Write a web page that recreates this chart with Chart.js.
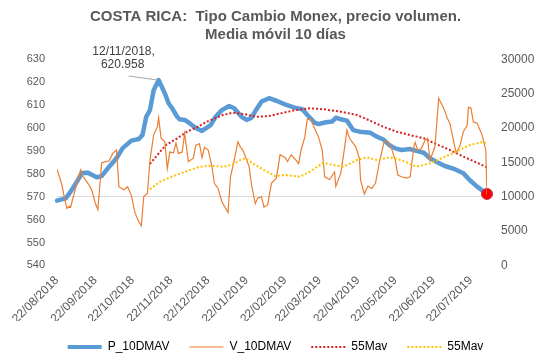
<!DOCTYPE html>
<html>
<head>
<meta charset="utf-8">
<script src="https://cdn.jsdelivr.net/npm/chart.js@4.4.0/dist/chart.umd.min.js"></script>
<style>
  html, body { margin: 0; padding: 0; background: #fff; }
</style>
</head>
<body>
<canvas id="chart" width="543" height="363"></canvas>
<script>
// Costa Rica - Monex exchange rate, 10 day moving averages
// x values are days counted from 22/08/2018

const titleLines = ['COSTA RICA:  Tipo Cambio Monex, precio volumen.', 'Media móvil 10 días'];
const peakLabel = ['12/11/2018,', '620.958'];

// month ticks on the date axis
const tickDays = [0, 31, 61, 92, 122, 153, 184, 212, 243, 273, 304, 334];
const tickLabels = ['22/08/2018', '22/09/2018', '22/10/2018', '22/11/2018', '22/12/2018', '22/01/2019',
  '22/02/2019', '22/03/2019', '22/04/2019', '22/05/2019', '22/06/2019', '22/07/2019'];

// P_10DMAV (left axis)
const priceDays = [0, 7, 11, 16, 20, 25, 32, 36, 41, 48, 53, 60, 66, 69, 72, 75, 78, 82, 87, 90, 93, 97,
  99, 103, 107, 112, 117, 124, 128, 133, 139, 143, 149, 153, 157, 161, 165, 171, 177, 184, 191, 198, 202,
  208, 211, 217, 222, 225, 229, 234, 239, 244, 253, 258, 263, 268, 273, 278, 285, 290, 296, 301, 306, 313,
  321, 328, 333, 339, 347];
const priceValues = [568.3, 569.3, 572.2, 576.5, 580.3, 580.5, 578.5, 579.0, 582.4, 586.8, 591.2, 594.5,
  595.2, 597.0, 604.9, 607.8, 616.5, 620.958, 615.2, 610.8, 608.6, 604.9, 603.8, 603.5, 602.1, 600.0, 598.7,
  601.3, 604.9, 607.8, 609.6, 608.6, 604.9, 603.5, 604.5, 608.2, 611.5, 613.0, 611.9, 610.3, 609.0, 608.2,
  605.7, 602.3, 601.7, 602.5, 602.8, 604.5, 603.8, 603.2, 599.1, 598.4, 597.9, 596.2, 595.1, 592.6, 591.1,
  590.4, 590.8, 590.0, 589.2, 586.8, 585.3, 583.4, 582.0, 580.2, 577.3, 574.4, 571.2];

// V_10DMAV (right axis)
const volDays = [0, 4, 6, 8, 10, 11, 16, 19, 21, 25, 28, 31, 33, 36, 39, 42, 45, 48, 50, 54, 57, 60, 63, 66,
  68, 70, 73, 75, 78, 81, 82, 84, 87, 89, 91, 94, 96, 98, 101, 103, 106, 110, 112, 115, 117, 119, 122,
  125, 127, 130, 133, 138, 140, 143, 146, 148, 150, 155, 157, 160, 162, 165, 167, 170, 173, 177, 180, 184,
  186, 189, 193, 195, 197, 200, 202, 205, 208, 211, 214, 216, 220, 224, 225, 229, 231, 234, 236, 241, 244,
  245, 248, 251, 254, 257, 260, 264, 267, 270, 273, 275, 278, 282, 285, 288, 289, 291, 294, 297, 299, 301,
  305, 308, 312, 315, 317, 319, 322, 325, 328, 331, 332, 334, 336, 339, 343, 346, 347];
const volValues = [14000, 11700, 9800, 8300, 8600, 8500, 11950, 13900, 12900, 11950, 11000, 9000, 8100,
  14900, 15100, 15200, 16300, 16800, 11450, 11000, 11450, 10200, 7600, 6350, 5750, 10000, 10500, 15300,
  19000, 20200, 21500, 18500, 18000, 14100, 16500, 16400, 17800, 16300, 16500, 19200, 15100, 15600, 17500,
  17700, 15700, 17200, 16800, 14400, 11950, 11200, 9300, 7700, 12900, 15300, 18000, 17200, 16800, 14400,
  11700, 9000, 9800, 10000, 8500, 8800, 11950, 12700, 16100, 15700, 15100, 16100, 15300, 14800, 16800,
  18700, 21300, 21200, 19900, 18700, 16800, 12900, 12500, 13600, 11500, 13400, 15800, 19700, 18500, 17300,
  15600, 12400, 10400, 11550, 11200, 11950, 14900, 18000, 18000, 17000, 15300, 13150, 12900, 12700, 12900,
  17300, 17900, 16800, 17000, 18200, 18500, 15300, 17300, 24300, 22900, 21400, 20700, 19000, 16400, 17300,
  19500, 20400, 23000, 22900, 20900, 20700, 19000, 16800, 10300];

// 55Mav of price (left axis)
const maPriceDays = [75, 81, 88, 97, 105, 113, 121, 134, 142, 152, 161, 171, 183, 193, 204, 215, 229, 242,
  253, 263, 274, 285, 296, 306, 317, 328, 339, 347];
const maPriceValues = [584.3, 588.2, 592.6, 595.5, 598.4, 600.4, 602.8, 605.7, 606.7, 606.0, 604.9, 605.2,
  606.7, 607.9, 608.6, 608.2, 607.1, 605.7, 603.1, 600.6, 598.4, 596.9, 595.5, 593.0, 590.4, 587.5, 584.8,
  582.8];

// 55Mav of volume (right axis)
const maVolDays = [75, 83, 94, 105, 115, 124, 134, 142, 148, 152, 158, 167, 176, 185, 196, 204, 215, 223,
  231, 242, 250, 258, 269, 279, 290, 301, 312, 322, 333, 344, 347];
const maVolValues = [11070, 12180, 13010, 13740, 14360, 14510, 14360, 14710, 15340, 15590, 14860, 13880,
  13010, 13150, 12900, 13640, 14950, 14610, 14360, 15340, 15730, 15340, 15730, 15240, 14360, 14860, 15730,
  16550, 17520, 18000, 17660];

const textColor = '#595959';
Chart.defaults.font.family = "'Liberation Sans', Arial, sans-serif";
Chart.defaults.font.size = 12;
Chart.defaults.color = textColor;

function pairs(days, vals) {
  return days.map((d, i) => ({ x: d, y: vals[i] }));
}

const lastIdx = priceValues.length - 1;

// label for the price peak, with a leader line
const peakPlugin = {
  id: 'peakLabel',
  afterDatasetsDraw(chart) {
    const i = priceValues.indexOf(Math.max(...priceValues));
    const pt = chart.getDatasetMeta(0).data[i];
    const c = chart.ctx;
    c.save();
    c.strokeStyle = '#A6A6A6';
    c.lineWidth = 1;
    c.beginPath();
    c.moveTo(pt.x - 30, pt.y - 4);
    c.lineTo(pt.x - 1, pt.y);
    c.stroke();
    c.fillStyle = '#404040';
    c.font = "12px 'Liberation Sans', Arial, sans-serif";
    c.textAlign = 'center';
    c.textBaseline = 'middle';
    c.fillText(peakLabel[0], pt.x - 35, pt.y - 28);
    c.fillText(peakLabel[1], pt.x - 36, pt.y - 15);
    c.restore();
  }
};

const legendDefs = [
  { text: 'P_10DMAV', color: '#5B9BD5', width: 4, dash: [] },
  { text: 'V_10DMAV', color: '#ED7D31', width: 1.2, dash: [] },
  { text: '55Mav', color: '#D92020', width: 2, dash: [2, 2] },
  { text: '55Mav', color: '#FFC000', width: 2, dash: [2, 2] }
];

new Chart(document.getElementById('chart'), {
  type: 'line',
  data: {
    datasets: [
      {
        label: 'P_10DMAV', data: pairs(priceDays, priceValues), yAxisID: 'y',
        borderColor: '#5B9BD5', borderWidth: 4.5, borderJoinStyle: 'round', borderCapStyle: 'round',
        pointRadius: ctx => ctx.dataIndex === lastIdx ? 5.5 : 0,
        pointBackgroundColor: '#FF0000', pointBorderColor: '#C0304A', pointBorderWidth: 1,
        clip: false, order: 3
      },
      {
        label: 'V_10DMAV', data: pairs(volDays, volValues), yAxisID: 'y1',
        borderColor: '#ED7D31', borderWidth: 1.2, pointRadius: 0, order: 1
      },
      {
        label: '55Mav', data: pairs(maPriceDays, maPriceValues), yAxisID: 'y',
        borderColor: '#D92020', borderWidth: 2, borderDash: [2, 2], pointRadius: 0, order: 2
      },
      {
        label: '55Mav', data: pairs(maVolDays, maVolValues), yAxisID: 'y1',
        borderColor: '#FFC000', borderWidth: 2, borderDash: [2, 2], pointRadius: 0, order: 0
      }
    ]
  },
  options: {
    responsive: false,
    animation: false,
    layout: { padding: { left: 8, right: 0, top: 0, bottom: 0 } },
    plugins: {
      tooltip: { enabled: false },
      title: {
        display: true, text: titleLines, color: textColor,
        font: { size: 15, weight: 'bold', lineHeight: 1.2 },
        padding: { top: 8, bottom: 15.3 }
      },
      legend: {
        position: 'bottom',
        labels: {
          usePointStyle: true, pointStyleWidth: 34, padding: 20, color: textColor,
          generateLabels: () => legendDefs.map((d, i) => ({
            text: d.text, strokeStyle: d.color, fillStyle: d.color, lineWidth: d.width,
            lineDash: d.dash, pointStyle: 'line', datasetIndex: i, hidden: false
          }))
        }
      }
    },
    scales: {
      x: {
        type: 'linear', min: 0, max: 347,
        afterBuildTicks: s => { s.ticks = tickDays.map(v => ({ value: v })); },
        afterFit: s => { s.height = 55.6; },
        ticks: {
          autoSkip: false, minRotation: 45, maxRotation: 45, padding: 8,
          callback: v => tickLabels[tickDays.indexOf(v)]
        },
        grid: { display: false, drawTicks: false },
        border: { display: false }
      },
      y: {
        position: 'left', min: 540, max: 630,
        afterFit: s => { s.width = 49; },
        ticks: { stepSize: 10, padding: 12, font: { size: 11 } },
        grid: { drawTicks: false, color: c => (c.tick && c.tick.value === 570) ? '#D9D9D9' : 'rgba(0,0,0,0)' },
        border: { display: false }
      },
      y1: {
        position: 'right', min: 0, max: 30000,
        afterFit: s => { s.width = 56; },
        ticks: { stepSize: 5000, padding: 14, callback: v => String(v) },
        grid: { display: false, drawTicks: false },
        border: { display: false }
      }
    }
  },
  plugins: [peakPlugin]
});
</script>
</body>
</html>
